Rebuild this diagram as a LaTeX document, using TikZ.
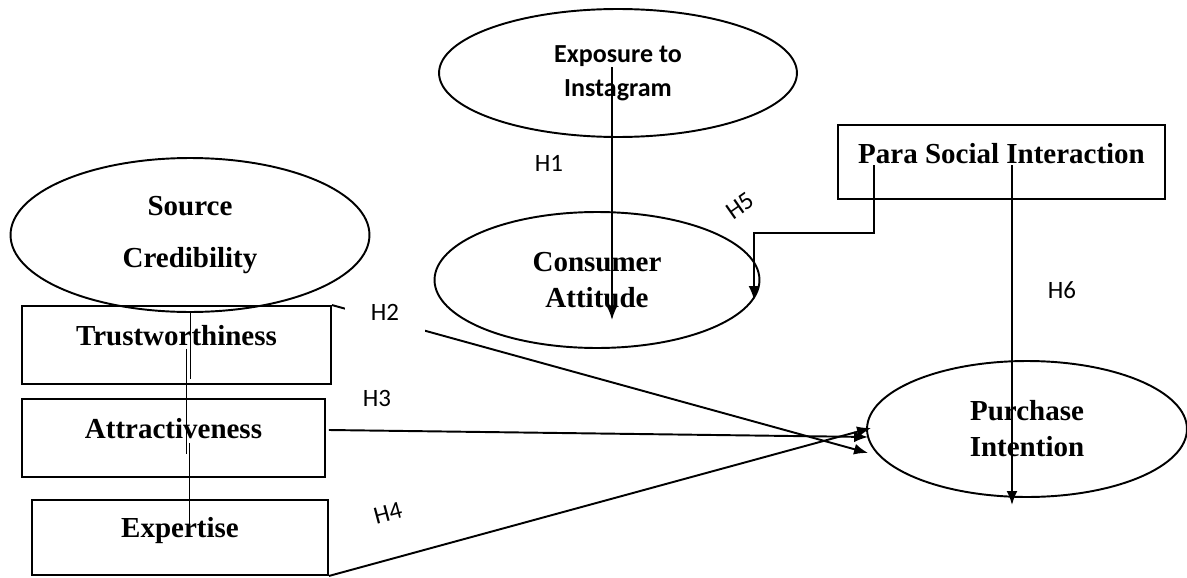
\documentclass[tikz,border=0pt]{standalone}
\usepackage{amssymb}
\usepackage{amsmath}
\usepackage{xcolor}
\usepackage{fontspec}
\setmainfont{Liberation Serif}
\newfontfamily\calibri{Carlito}
\usetikzlibrary{arrows.meta,shapes.geometric,calc}

\tikzset{
    construct/.style={ellipse,draw,line width=1.1pt,inner sep=0pt,align=center,
        font=\bfseries\fontsize{16.5}{20.5}\selectfont},
    factor/.style={rectangle,draw,line width=1.1pt,inner xsep=0pt,inner ysep=0pt,
        text height=0.78cm,text depth=0.78cm,font=\bfseries\fontsize{16.5}{20}\selectfont},
    hyp/.style={font=\calibri\fontsize{14.2}{17}\selectfont,inner sep=1pt},
    link/.style={line width=1.1pt,-{Latex[length=0.28cm,width=0.22cm]}}
}

\begin{document}
\begin{tikzpicture}[x=0.02cm,y=-0.02cm]
            \useasboundingbox (0,0) rectangle (1187,578);

            \node[construct,minimum width=7.16cm,minimum height=2.56cm,
                font=\calibri\bfseries\fontsize{14.8}{19.3}\selectfont] (exp) at (618,73) {Exposure to\\Instagram};
            \node[construct,minimum width=7.18cm,minimum height=3.08cm] (sc) at (190,235) {Source\\[9pt]Credibility};
            \node[construct,minimum width=6.5cm,minimum height=2.72cm] (ca) at (597,280) {Consumer\\Attitude};
            \node[construct,minimum width=6.4cm,minimum height=2.72cm] (pi) at (1027,429) {Purchase\\Intention};

            \node[factor,minimum width=6.18cm] (trust) at (176.5,345) {Trustworthiness};
            \node[factor,minimum width=6.06cm] (attr) at (173.5,438) {Attractiveness};
            \node[factor,minimum width=5.92cm,text height=0.74cm,text depth=0.76cm] (expt) at (180,537.5) {Expertise};
            \node[factor,minimum width=6.54cm,text height=0.76cm,text depth=0.72cm] (psi) at (1001.5,162) {Para Social Interaction};

            \draw[line width=0.5pt] (sc.south) -- ++(0,66);
            \draw[line width=0.5pt] ($(sc.south)+(-4,36)$) -- ++(0,105);
            \draw[line width=0.5pt] ($(sc.south)+(-1,130)$) -- ++(0,85);

            \draw[link] ($(exp.center)+(-6,-6)$) -- ($(ca.center)+(15,40)$);
            \draw[link] ($(psi.center)+(-127.5,3)$) -- ++(0,68) -| ($(ca.center)+(157,20)$);
            \draw[link] ($(psi.center)+(10.5,3)$) -- ($(pi.center)+(-15,76)$);
            \draw[link] (trust.north east) -- ($(pi.west)+(2,24)$);
            \draw[link] ($(attr.east)+(3,-8)$) -- ($(pi.west)+(2,8)$);
            \draw[link] (expt.south east) -- ($(pi.west)+(5,-1)$);

            \node[hyp] (h1) at (549,163) {H1};
            \node[hyp,fill=white,inner sep=0pt,minimum width=1.6cm,text height=0.37cm,
                text depth=0.4cm,anchor=north] (h2) at (385,302) {H2};
            \node[hyp] (h3) at (377,398) {H3};
            \node[hyp,rotate=15] (h4) at (388,513) {H4};
            \node[hyp,rotate=35,fill=white] (h5) at (740,206) {H5};
            \node[hyp] (h6) at (1062,290) {H6};
        \end{tikzpicture}
\end{document}
